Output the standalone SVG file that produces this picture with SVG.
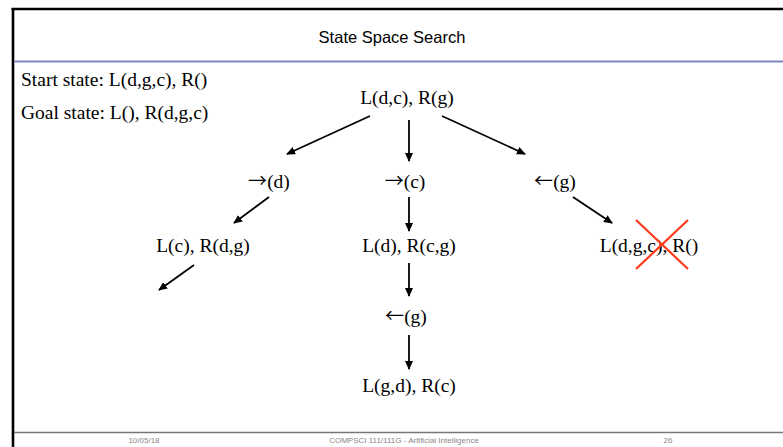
<svg xmlns="http://www.w3.org/2000/svg" width="783" height="447" viewBox="0 0 783 447">
  <defs>
    <marker id="head" markerUnits="userSpaceOnUse" markerWidth="9" markerHeight="8" refX="8" refY="4" orient="auto">
      <path d="M0,0 L9,4 L0,8 Z" fill="#000"/>
    </marker>
  </defs>
  <style>
    .serif { font-family: "Liberation Serif", "Times New Roman", serif; font-size: 19.5px; fill: #000; }
    .arw { font-family: "Noto Sans CJK SC", "DejaVu Sans", sans-serif; font-size: 19px; }
    .title { font-family: "Liberation Sans", Arial, sans-serif; font-size: 16.5px; fill: #000; }
    .foot { font-family: "Liberation Sans", Arial, sans-serif; font-size: 8px; fill: #888; }
    .edge { stroke: #000; stroke-width: 1.8; fill: none; marker-end: url(#head); }
    .cross { stroke: #ff3a1a; stroke-width: 2.2; }
  </style>

  <rect width="783" height="447" fill="#fff"/>

  <!-- slide frame -->
  <g id="frame">
    <line x1="11.5" y1="9" x2="783" y2="9" stroke="#000" stroke-width="2.6"/>
    <line x1="13" y1="8" x2="13" y2="447" stroke="#000" stroke-width="2.6"/>
    <line x1="14" y1="61.5" x2="783" y2="61.5" stroke="#7f86c4" stroke-width="2"/>
    <line x1="14" y1="432.5" x2="783" y2="432.5" stroke="#777" stroke-width="1.6"/>
  </g>

  <text class="title" x="392" y="43" text-anchor="middle">State Space Search</text>

  <g id="legend">
    <text class="serif" x="21" y="86">Start state: L(d,g,c), R()</text>
    <text class="serif" x="21" y="119">Goal state: L(), R(d,g,c)</text>
  </g>

  <!-- states and moves -->
  <g id="root"><text class="serif" x="407" y="104" text-anchor="middle">L(d,c), R(g)</text></g>
  <g id="move-d"><text class="serif" x="269" y="188" text-anchor="middle"><tspan class="arw">→</tspan>(d)</text></g>
  <g id="move-c"><text class="serif" x="405" y="188" text-anchor="middle"><tspan class="arw">→</tspan>(c)</text></g>
  <g id="move-g"><text class="serif" x="555" y="188" text-anchor="middle"><tspan class="arw">←</tspan>(g)</text></g>
  <g id="state-left"><text class="serif" x="203" y="252" text-anchor="middle">L(c), R(d,g)</text></g>
  <g id="state-mid"><text class="serif" x="409" y="252" text-anchor="middle">L(d), R(c,g)</text></g>
  <g id="state-right">
    <text class="serif" x="649" y="252" text-anchor="middle">L(d,g,c), R()</text>
    <line class="cross" x1="636" y1="220" x2="688" y2="269"/>
    <line class="cross" x1="688" y1="220" x2="636" y2="269"/>
  </g>
  <g id="move-g2"><text class="serif" x="406" y="323" text-anchor="middle"><tspan class="arw">←</tspan>(g)</text></g>
  <g id="state-bottom"><text class="serif" x="409" y="392" text-anchor="middle">L(g,d), R(c)</text></g>

  <g id="connectors">
    <line class="edge" x1="370" y1="116" x2="287" y2="154"/>
    <line class="edge" x1="409" y1="120" x2="409" y2="161"/>
    <line class="edge" x1="442" y1="116" x2="525" y2="154"/>
    <line class="edge" x1="269" y1="197" x2="234" y2="223"/>
    <line class="edge" x1="409" y1="197" x2="409" y2="231"/>
    <line class="edge" x1="573" y1="197" x2="612" y2="223"/>
    <line class="edge" x1="194" y1="265" x2="159" y2="290"/>
    <line class="edge" x1="409" y1="263" x2="409" y2="296"/>
    <line class="edge" x1="409" y1="335" x2="409" y2="369"/>
  </g>

  <g id="footer">
    <text class="foot" x="144" y="443" text-anchor="middle">10/05/18</text>
    <text class="foot" x="404" y="443" text-anchor="middle">COMPSCI 111/111G - Artificial Intelligence</text>
    <text class="foot" x="668" y="443" text-anchor="middle">26</text>
  </g>
</svg>
